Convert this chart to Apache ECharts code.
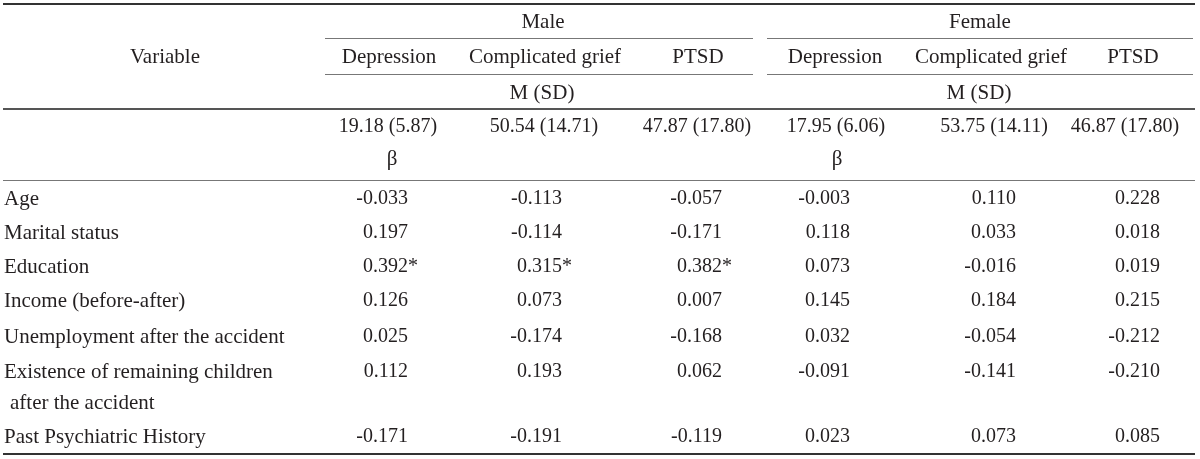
<!DOCTYPE html>
<html>
<head>
<meta charset="utf-8">
<script src="https://cdn.jsdelivr.net/npm/echarts@6/dist/echarts.min.js"></script>
<style>
html,body{margin:0;padding:0;background:#fff;}
#chart{width:1200px;height:459px;}
</style>
</head>
<body>
<div id="chart"></div>
<script>
// ---------- DATA ----------
const groups = ['Male', 'Female'];
const outcomes = ['Depression', 'Complicated grief', 'PTSD'];
const headerVariable = 'Variable';
const meanLabel = 'M (SD)';
const betaLabel = 'β';
const maleMean = [19.18, 50.54, 47.87];
const maleSD = [5.87, 14.71, 17.80];
const femaleMean = [17.95, 53.75, 46.87];
const femaleSD = [6.06, 14.11, 17.80];
const variables = [
  ['Age'],
  ['Marital status'],
  ['Education'],
  ['Income (before-after)'],
  ['Unemployment after the accident'],
  ['Existence of remaining children', 'after the accident'],
  ['Past Psychiatric History']
];
const maleDepression = [-0.033, 0.197, 0.392, 0.126, 0.025, 0.112, -0.171];
const maleGrief      = [-0.113, -0.114, 0.315, 0.073, -0.174, 0.193, -0.191];
const malePTSD       = [-0.057, -0.171, 0.382, 0.007, -0.168, 0.062, -0.119];
const femaleDepression = [-0.003, 0.118, 0.073, 0.145, 0.032, -0.091, 0.023];
const femaleGrief      = [0.110, 0.033, -0.016, 0.184, -0.054, -0.141, 0.073];
const femalePTSD       = [0.228, 0.018, 0.019, 0.215, -0.212, -0.210, 0.085];
const maleDepressionSig = [0, 0, 1, 0, 0, 0, 0];
const maleGriefSig      = [0, 0, 1, 0, 0, 0, 0];
const malePTSDSig       = [0, 0, 1, 0, 0, 0, 0];
const femaleDepressionSig = [0, 0, 0, 0, 0, 0, 0];
const femaleGriefSig      = [0, 0, 0, 0, 0, 0, 0];
const femalePTSDSig       = [0, 0, 0, 0, 0, 0, 0];

// ---------- LAYOUT ----------
const W = 1200, H = 459;
const FONT_WORD = '21px "Liberation Serif", "DejaVu Serif", serif';
const FONT_NUM = '20px "Liberation Serif", "DejaVu Serif", serif';
const INK = '#231f20';
const groupCenter = [543, 980];
const groupSpan = [[325, 753], [767, 1193]];
const headCenter = [389, 545, 698, 835, 991, 1133];
const meanCenter = [388, 544, 697, 836, 994, 1125];
const betaCenter = [392, 837];
const valueRight = [408, 562, 722, 850, 1016, 1160];
const yGroup = 22, yHead = 57, yMSD = 93, yMean = 127, yBeta = 159;
const rowY = [199, 233, 267, 301, 337, 372, 437];
const lineGap = 31;
const labelX = 4, labelIndent = 10;

const cols = [
  [maleDepression, maleDepressionSig], [maleGrief, maleGriefSig], [malePTSD, malePTSDSig],
  [femaleDepression, femaleDepressionSig], [femaleGrief, femaleGriefSig], [femalePTSD, femalePTSDSig]
];
const means = [maleMean, femaleMean], sds = [maleSD, femaleSD];

// Build text cells
const cells = [];
function cell(x, y, text, align, font) { cells.push({ x, y, text, align, font: font || FONT_WORD }); }
cell(165, yHead, headerVariable, 'center');
groups.forEach((g, gi) => {
  cell(groupCenter[gi], yGroup, g, 'center');
  cell(groupCenter[gi] - 1, yMSD, meanLabel, 'center');
  cell(betaCenter[gi], yBeta, betaLabel, 'center');
  outcomes.forEach((o, oi) => {
    const c = gi * 3 + oi;
    cell(headCenter[c], yHead, o, 'center');
    cell(meanCenter[c], yMean, means[gi][oi].toFixed(2) + ' (' + sds[gi][oi].toFixed(2) + ')', 'center', FONT_NUM);
  });
});
variables.forEach((lines, ri) => {
  lines.forEach((t, li) => cell(li === 0 ? labelX : labelIndent, rowY[ri] + li * lineGap, t, 'left'));
  cols.forEach((col, ci) => {
    cell(valueRight[ci], rowY[ri], col[0][ri].toFixed(3), 'right', FONT_NUM);
    if (col[1][ri]) cell(valueRight[ci], rowY[ri], '*', 'left', FONT_NUM);
  });
});

// Rules
const rules = [
  [3, 4, 1195, 4, 2, '#333'],
  [groupSpan[0][0], 38.5, groupSpan[0][1], 38.5, 1, '#777'],
  [groupSpan[1][0], 38.5, groupSpan[1][1], 38.5, 1, '#777'],
  [groupSpan[0][0], 74.5, groupSpan[0][1], 74.5, 1, '#777'],
  [groupSpan[1][0], 74.5, groupSpan[1][1], 74.5, 1, '#777'],
  [3, 109, 1195, 109, 2, '#555'],
  [3, 180.5, 1195, 180.5, 1, '#777'],
  [3, 454, 1195, 454, 2, '#333']
];

const chart = echarts.init(document.getElementById('chart'), null, { renderer: 'canvas' });
chart.setOption({
  backgroundColor: '#fff',
  animation: false,
  grid: { left: 0, right: 0, top: 0, bottom: 0 },
  xAxis: { type: 'value', min: 0, max: W, show: false },
  yAxis: { type: 'value', min: 0, max: H, inverse: true, show: false },
  series: [
    {
      type: 'custom',
      coordinateSystem: 'cartesian2d',
      clip: false,
      silent: true,
      data: rules.map(r => [r[0], r[1], r[2], r[3]]),
      renderItem: function (params, api) {
        const r = rules[params.dataIndex];
        const p1 = api.coord([api.value(0), api.value(1)]);
        const p2 = api.coord([api.value(2), api.value(3)]);
        return { type: 'line', shape: { x1: p1[0], y1: p1[1], x2: p2[0], y2: p2[1] },
                 style: { stroke: r[5], lineWidth: r[4] } };
      }
    },
    {
      type: 'custom',
      coordinateSystem: 'cartesian2d',
      clip: false,
      silent: true,
      data: cells.map(c => [c.x, c.y]),
      renderItem: function (params, api) {
        const c = cells[params.dataIndex];
        const p = api.coord([api.value(0), api.value(1)]);
        return { type: 'text', x: p[0], y: p[1],
                 style: { text: c.text, align: c.align, verticalAlign: 'middle', font: c.font, fill: INK } };
      }
    }
  ]
});
</script>
</body>
</html>
